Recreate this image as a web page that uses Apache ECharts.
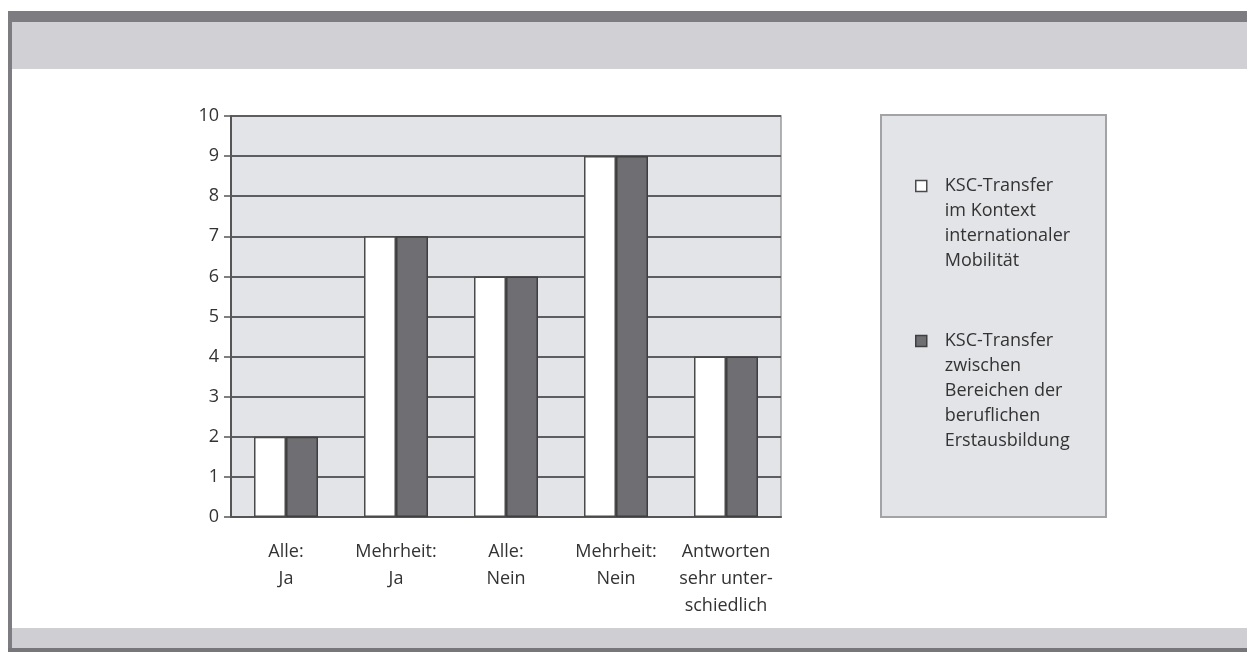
<!DOCTYPE html>
<html>
<head>
<meta charset="utf-8">
<script src="https://cdn.jsdelivr.net/npm/echarts@6/dist/echarts.min.js"></script>
<style>
  html, body { margin: 0; padding: 0; background: #fff; }
  #chart { width: 1247px; height: 652px; }
</style>
</head>
<body>
<div id="chart"></div>
<script>
// Daten
var categories = ['Alle:\nJa', 'Mehrheit:\nJa', 'Alle:\nNein', 'Mehrheit:\nNein', 'Antworten\nsehr unter-\nschiedlich'];
var seriesNames = [
    'KSC-Transfer\nim Kontext\ninternationaler\nMobilität',
    'KSC-Transfer\nzwischen\nBereichen der\nberuflichen\nErstausbildung'
];
var mobilitaet = [2, 7, 6, 9, 4];
var bereiche = [2, 7, 6, 9, 4];

var font = '"Open Sans", sans-serif';
var chart = echarts.init(document.getElementById('chart'));

// Legendentext: Symbol soll auf Höhe der ersten Zeile stehen,
// deshalb Leerzeilen davor (Text wird um das Symbol zentriert)
function topAligned(name) {
    var n = name.split('\n').length;
    return new Array(n).join('\n') + name;
}

var legendBase = {
    orient: 'vertical',
    left: 915,
    padding: 0,
    itemWidth: 11,
    itemHeight: 11,
    icon: 'rect',
    selectedMode: false,
    formatter: topAligned
};

option = {
    animation: false,
    textStyle: { fontFamily: font },
    graphic: [
        // Rahmen oben
        { type: 'rect', shape: { x: 8, y: 11, width: 1239, height: 11 }, style: { fill: '#7c7c81' }, silent: true },
        { type: 'rect', shape: { x: 12, y: 22, width: 1235, height: 47 }, style: { fill: '#d1d1d5' }, silent: true },
        // Rahmen links
        { type: 'rect', shape: { x: 8, y: 11, width: 4, height: 641 }, style: { fill: '#7c7c81' }, silent: true },
        // Rahmen unten
        { type: 'rect', shape: { x: 12, y: 628, width: 1235, height: 20 }, style: { fill: '#cfcfd3' }, silent: true },
        { type: 'rect', shape: { x: 8, y: 648, width: 1239, height: 4 }, style: { fill: '#77777b' }, silent: true },
        // Legendenkasten
        { type: 'rect', z: -1, shape: { x: 881, y: 115, width: 225, height: 402 },
          style: { fill: '#e3e4e7', stroke: '#a3a3a6', lineWidth: 2 }, silent: true }
    ],
    legend: [
        Object.assign({}, legendBase, {
            top: 98.5,
            data: [{ name: seriesNames[0], itemStyle: { color: '#ffffff', borderColor: '#4a4a4a', borderWidth: 1.5 } }],
            textStyle: { fontFamily: font, fontSize: 18, color: '#333', lineHeight: 25, padding: [0, 0, 0, 13] }
        }),
        Object.assign({}, legendBase, {
            top: 228.5,
            data: [{ name: seriesNames[1], itemStyle: { color: '#6f6f73', borderColor: '#3f3f3f', borderWidth: 1.5 } }],
            textStyle: { fontFamily: font, fontSize: 18, color: '#333', lineHeight: 25, padding: [0, 0, 0, 13] }
        })
    ],
    grid: {
        left: 231,
        right: 466,
        top: 116,
        bottom: 135,
        show: true,
        backgroundColor: '#e3e4e7',
        borderColor: '#9a9a9d',
        borderWidth: 1.5
    },
    xAxis: {
        type: 'category',
        data: categories,
        axisLine: { lineStyle: { color: '#555', width: 2 } },
        axisTick: { length: 7, lineStyle: { color: '#555', width: 1.5 } },
        axisLabel: { fontFamily: font, fontSize: 18, color: '#333', lineHeight: 27, margin: 21, interval: 0 }
    },
    yAxis: {
        type: 'value',
        min: 0,
        max: 10,
        interval: 1,
        axisLine: { show: true, lineStyle: { color: '#555', width: 2 } },
        axisTick: { show: true, length: 7, lineStyle: { color: '#555', width: 1.5 } },
        axisLabel: { fontFamily: font, fontSize: 18, color: '#333', margin: 12 },
        splitLine: { lineStyle: { color: '#5e5e61', width: 2 } }
    },
    series: [
        {
            name: seriesNames[0],
            type: 'bar',
            data: mobilitaet,
            barWidth: 32,
            barGap: 0,
            itemStyle: { color: '#ffffff', borderColor: '#4a4a4a', borderWidth: 1.5 }
        },
        {
            name: seriesNames[1],
            type: 'bar',
            data: bereiche,
            barWidth: 32,
            barGap: 0,
            itemStyle: { color: '#6f6f73', borderColor: '#3f3f3f', borderWidth: 1.5 }
        }
    ]
};

chart.setOption(option);
</script>
</body>
</html>
